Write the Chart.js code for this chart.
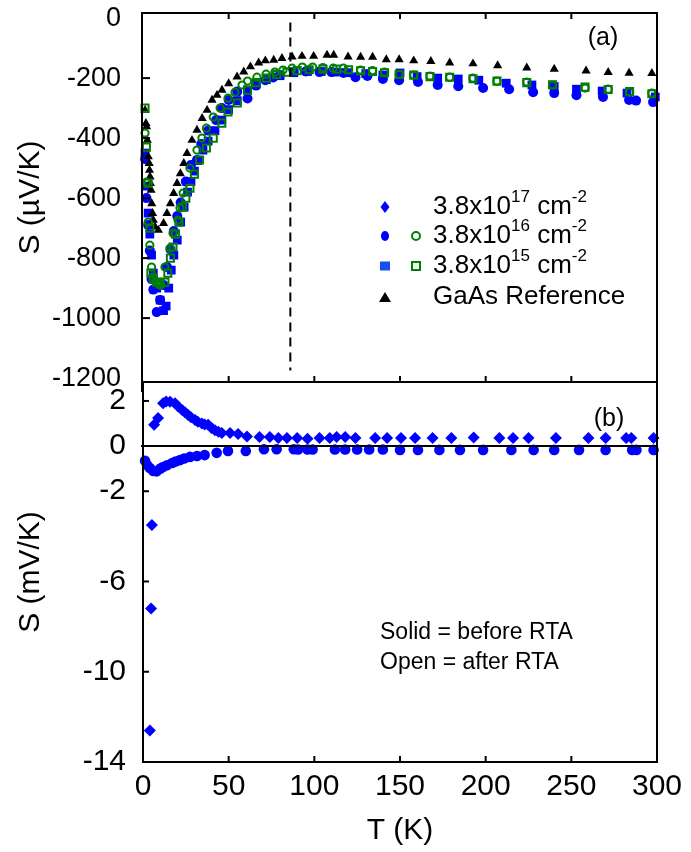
<!DOCTYPE html>
<html><head><meta charset="utf-8">
<script src="https://cdn.jsdelivr.net/npm/chart.js@4"></script>
<style>
html,body{margin:0;padding:0;background:#fff;}
#wrap{position:relative;width:691px;height:852px;overflow:hidden;background:#fff;}
#cA{position:absolute;left:0;top:0;z-index:2;}
#cB{position:absolute;left:0;top:372px;z-index:1;}
</style></head><body>
<div id="wrap"><canvas id="cB" width="691" height="480"></canvas><canvas id="cA" width="691" height="400"></canvas></div>
<script>
// ---------- DATA (top panel, S in µV/K) ----------
const REF_T = [1.2,1.7,2.1,2.5,3.1,3.6,3.8,4.1,4.3,4.7,5.1,5.6,6.0,7.0,9.0,12.0,14.0,16.0,17.9,19.9,21.8,23.8,25.7,28.6,31.5,34.5,37.4,40.3,43.2,46.1,50.0,54.9,58.8,62.7,67.5,71.4,76.3,81.1,87.0,92.8,99.6,107.4,111.3,119.7,127,134,142,149.5,158,168,179,192.6,207,224,240,258.6,271.5,283.7,297];
const REF_S = [-307,-351,-362,-407,-462,-484,-507,-529,-551,-573,-618,-651,-673,-696,-707,-684,-651,-618,-584,-551,-518,-484,-451,-407,-373,-334,-307,-273,-257,-240,-218,-196,-179,-162,-149,-142,-140,-134,-129,-127,-127,-123,-123,-129,-130,-130,-138,-138,-142,-144,-149,-152,-158,-166,-170,-176,-181,-183,-184];

const OPEN16_T = [1.2,2,3,4,5,6,8,10,12.8,15.8,17.5,20.4,21.6,23.4,27.4,31.5,34.4,37,41,45,49.6,53.7,57.8,61,66.5,71.8,77,81.7,87,93,99,105,111,117,127,134,141,149.5,158,167.5,179,192.6,206.6,224,239,258,271.5,284,297];
const OPEN16_S = [-383,-547,-680,-757,-830,-863,-880,-890,-830,-767,-717,-673,-633,-583,-500,-440,-400,-367,-330,-300,-267,-247,-223,-210,-197,-187,-180,-173,-167,-163,-163,-165,-167,-167,-173,-175,-180,-187,-190,-193,-197,-200,-210,-213,-223,-233,-237,-247,-250];

const OPEN15_T = [1.2,2,3,4,4.6,6,8,10,12.8,14.5,16,17.5,19,21,23,25,27.4,30,33,37,41,46,49.6,55,61,66,72,78,84,90,97,105,113,120,127,134,141,149.5,158,167.5,179,192.6,206.6,224,239,258,271.5,284,297];
const OPEN15_S = [-300,-430,-550,-700,-850,-870,-880,-885,-880,-850,-800,-763,-720,-680,-630,-600,-567,-520,-473,-433,-400,-350,-313,-283,-240,-215,-200,-188,-180,-175,-172,-170,-170,-172,-176,-178,-182,-188,-190,-195,-197,-202,-210,-215,-222,-230,-238,-245,-252];

const SOLID16_T = [1.2,2,3,4,5,6,8,10,12,14,16,18,20,22,25,28,31.5,34,38,42.7,46,50,55,61,66,71.4,76,80,88,95,103,110,117,124,131,140,149.5,160.5,172,184,198.5,213.7,227.7,240,253,268.5,283.7,287.8,297.7];
const SOLID16_S = [-470,-600,-690,-775,-870,-905,-980,-940,-890,-830,-770,-710,-660,-615,-545,-490,-473,-420,-375,-340,-300,-273,-245,-268,-225,-207,-198,-190,-180,-178,-180,-180,-183,-197,-193,-203,-207,-213,-223,-227,-233,-237,-247,-250,-257,-263,-273,-275,-280];

const SOLID15_T = [1.2,2,3,4,5,6,8,10,12,13.5,15,16.5,18,20,22,24,26,28,30,32,35,38,42,46,50,55,61,66,72,80,88,96,104,112,120,130,140,150,160,172,184,196,212,227,240,253,268,282.5,299];
const SOLID15_S = [-450,-560,-650,-720,-790,-850,-900,-940,-975,-960,-900,-840,-790,-740,-680,-630,-580,-545,-510,-475,-440,-410,-375,-340,-305,-275,-240,-220,-205,-192,-182,-178,-178,-180,-182,-185,-190,-183,-195,-200,-203,-207,-217,-223,-228,-237,-243,-250,-263];

// ---------- DATA (bottom panel, S in mV/K) ----------
const DIA17_T = [4,4.7,5.2,6.5,8.8,11.7,13.5,15.8,18.7,20.5,22.8,24.5,26.3,28,30.4,32,34.4,36,38,40,42,44,46,50.8,55.5,60.7,68,74,79,84,90,96,103,109,113,118,124,135.5,142.5,150.6,158.8,169,180,193,208,216,225,241,260,270,282,285,298];
const DIA17_S = [-12.6,-7.2,-3.5,0.94,1.25,1.9,1.98,1.96,1.9,1.75,1.6,1.5,1.38,1.28,1.16,1.08,1.0,0.96,0.94,0.8,0.7,0.64,0.58,0.58,0.54,0.42,0.4,0.4,0.36,0.36,0.36,0.32,0.36,0.36,0.4,0.4,0.36,0.36,0.36,0.36,0.36,0.36,0.36,0.38,0.36,0.36,0.36,0.36,0.36,0.36,0.36,0.36,0.36];

const CIR16_T = [1.2,2.5,4,6,8,10,11.7,14,17,19,21.6,24,27.4,31.5,36,43,49.6,60,70.6,78,88,90.5,96,99,112,118,125,132,140,150,160.5,173,185,198.5,215,228,240,254.5,270,285.5,288,298];
const CIR16_S = [-0.65,-0.85,-0.97,-1.1,-1.12,-1.0,-0.93,-0.85,-0.75,-0.68,-0.62,-0.55,-0.48,-0.44,-0.4,-0.3,-0.22,-0.22,-0.14,-0.14,-0.14,-0.15,-0.15,-0.15,-0.15,-0.15,-0.15,-0.15,-0.15,-0.17,-0.17,-0.17,-0.17,-0.17,-0.17,-0.17,-0.17,-0.17,-0.17,-0.17,-0.17,-0.17];

// ---------- axes / labels ----------
const X_TICKS = [0,50,100,150,200,250,300];
const TOP_Y_TICKS = [-1200,-1000,-800,-600,-400,-200,0];
const BOT_Y_TICKS = [-14,-10,-6,-2,0,2];
const TOP_Y_RANGE = [-1213, 17];
const BOT_Y_RANGE = [-14, 2.84];
const DASH_T = 86;
const DASH_S = [-15, -1175];
const LEGEND_LABELS = [
  [['3.8x10',0],['17',1],[' cm',0],['-2',1]],
  [['3.8x10',0],['16',1],[' cm',0],['-2',1]],
  [['3.8x10',0],['15',1],[' cm',0],['-2',1]],
  [['GaAs Reference',0]]
];

const FONT = "'Liberation Sans', Arial, Helvetica, sans-serif";
Chart.defaults.font.family = FONT;
Chart.defaults.color = '#000';

const BLUE = '#0000ff', GREEN = '#008000', BLACK = '#000000';
function pts(T,S){ return T.map((t,i)=>({x:t,y:S[i]})); }
function line(ctx,x1,y1,x2,y2){ ctx.beginPath(); ctx.moveTo(x1,y1); ctx.lineTo(x2,y2); ctx.stroke(); }
function mark(ctx, style, x, y, w, h, fill, stroke, lw){
  ctx.save(); ctx.beginPath();
  if(style==='circle'){ ctx.ellipse(x,y,w/2,h/2,0,0,Math.PI*2); }
  else if(style==='rect'){ ctx.rect(x-w/2,y-h/2,w,h); }
  else if(style==='triangle'){ ctx.moveTo(x,y-h/2); ctx.lineTo(x+w/2,y+h/2); ctx.lineTo(x-w/2,y+h/2); ctx.closePath(); }
  else if(style==='diamond'){ ctx.moveTo(x,y-h/2); ctx.lineTo(x+w/2,y); ctx.lineTo(x,y+h/2); ctx.lineTo(x-w/2,y); ctx.closePath(); }
  if(fill){ ctx.fillStyle=fill; ctx.fill(); }
  if(stroke){ ctx.strokeStyle=stroke; ctx.lineWidth=lw; ctx.stroke(); }
  ctx.restore();
}
function rich(ctx, parts, x, y, size, supSize, rise){
  ctx.textBaseline='middle'; ctx.textAlign='left'; ctx.fillStyle='#000';
  let cx = x;
  parts.forEach(([t,sup])=>{
    ctx.font = (sup?supSize:size)+'px '+FONT;
    ctx.fillText(t, cx, sup ? y-rise : y);
    cx += ctx.measureText(t).width;
  });
}

const frameA = {
  id:'frameA',
  afterDraw(chart){
    const {ctx, chartArea:ca, scales:{x,y}} = chart;
    ctx.save();
    ctx.strokeStyle='#000'; ctx.lineWidth=2;
    line(ctx, ca.left-1, ca.top, ca.left-1, 392);
    line(ctx, ca.left-2, ca.top, ca.right+1, ca.top);
    line(ctx, ca.right, ca.top, ca.right, ca.bottom);
    X_TICKS.forEach(v=>{ if(v<=0||v>=300) return; const px=x.getPixelForValue(v);
      line(ctx,px,ca.top,px,ca.top+6); line(ctx,px,ca.bottom,px,ca.bottom-6); });
    TOP_Y_TICKS.forEach(v=>{ if(v===0||v===-1200) return; const py=y.getPixelForValue(v);
      line(ctx, ca.left, py, ca.left+7, py); });
    ctx.setLineDash([9,6]);
    const dx = x.getPixelForValue(DASH_T);
    line(ctx, dx, y.getPixelForValue(DASH_S[0]), dx, y.getPixelForValue(DASH_S[1]));
    ctx.setLineDash([]);
    // legend
    const rows=[207,236,266,297];
    mark(ctx,'diamond',385,rows[0],9,12,BLUE);
    mark(ctx,'circle',385,rows[1],8,10,BLUE);
    mark(ctx,'circle',416,rows[1],8,8,null,GREEN,2);
    mark(ctx,'rect',385,rows[2],10,9,'#1450f0');
    mark(ctx,'rect',416,rows[2],8,8,null,GREEN,2);
    mark(ctx,'triangle',385,rows[3],12,10,BLACK);
    LEGEND_LABELS.forEach((p,i)=>rich(ctx,p,433,rows[i],26,17,10));
    ctx.font='25px '+FONT; ctx.textAlign='center'; ctx.textBaseline='middle'; ctx.fillStyle='#000';
    ctx.fillText('(a)',603,38);
    ctx.restore();
  }
};

const frameB = {
  id:'frameB',
  afterDraw(chart){
    const {ctx, chartArea:ca, scales:{x,y}} = chart;
    ctx.save();
    ctx.strokeStyle='#000'; ctx.lineWidth=2;
    line(ctx, ca.left, ca.top, ca.left, ca.bottom+1);
    line(ctx, ca.left-1, ca.top, ca.right+1, ca.top);
    line(ctx, ca.left-1, ca.bottom, ca.right+1, ca.bottom);
    line(ctx, ca.right, ca.top, ca.right, ca.bottom);
    const zy = y.getPixelForValue(0);
    line(ctx, ca.left-2, zy, ca.right, zy);
    X_TICKS.forEach(v=>{ if(v<=0||v>=300) return; const px=x.getPixelForValue(v);
      line(ctx,px,ca.bottom,px,ca.bottom-6); });
    BOT_Y_TICKS.forEach(v=>{ if(v===0||v===-14) return; const py=y.getPixelForValue(v);
      line(ctx, ca.left-1, py, ca.left+6, py); });
    ctx.fillStyle='#000'; ctx.textBaseline='middle';
    ctx.font='25px '+FONT; ctx.textAlign='center';
    ctx.fillText('(b)',609,419-372);
    ctx.font='23px '+FONT; ctx.textAlign='left';
    ctx.fillText('Solid = before RTA',380,633-372);
    ctx.fillText('Open = after RTA',380,663-372);
    ctx.restore();
  }
};

function yAxis(range, ticks, pad, size, title){
  return {
    type:'linear', min:range[0], max:range[1],
    afterBuildTicks: s=>{ s.ticks = ticks.map(v=>({value:v})); },
    afterFit: s=>{ s.width=143; s.paddingTop=0; s.paddingBottom=0; },
    grid:{display:false, drawTicks:false}, border:{display:false},
    ticks:{font:{size:size}, color:'#000', padding:pad, autoSkip:false, callback:v=>String(v)},
    title:{display:true, text:title, color:'#000', font:{size:30}, padding:{top:13,bottom:0}}
  };
}

const common = {
  responsive:false, animation:false, events:[],
  plugins:{legend:{display:false}, tooltip:{enabled:false}}
};

new Chart(document.getElementById('cA'), {
  type:'scatter',
  data:{datasets:[
    {data:pts(OPEN16_T,OPEN16_S), pointStyle:'circle', radius:3.6, backgroundColor:'rgba(0,0,0,0)', borderColor:GREEN, borderWidth:2, clip:false},
    {data:pts(OPEN15_T,OPEN15_S), pointStyle:'rect', radius:5, backgroundColor:'rgba(0,0,0,0)', borderColor:GREEN, borderWidth:2, clip:false},
    {data:pts(REF_T,REF_S), pointStyle:'triangle', radius:5.3, backgroundColor:BLACK, borderColor:BLACK, borderWidth:0, clip:false},
    {data:pts(SOLID16_T,SOLID16_S), pointStyle:'circle', radius:5, backgroundColor:BLUE, borderColor:BLUE, borderWidth:0, clip:false},
    {data:pts(SOLID15_T,SOLID15_S), pointStyle:'rect', radius:6.2, backgroundColor:BLUE, borderColor:BLUE, borderWidth:0, clip:false}
  ]},
  options:Object.assign({}, common, {
    layout:{padding:{top:13,right:34,bottom:18,left:0}},
    scales:{
      x:{type:'linear', min:0, max:300, display:false},
      y:yAxis(TOP_Y_RANGE, TOP_Y_TICKS, 22, 27, 'S (µV/K)')
    }
  }),
  plugins:[frameA]
});

new Chart(document.getElementById('cB'), {
  type:'scatter',
  data:{datasets:[
    {data:pts(DIA17_T,DIA17_S), pointStyle:'rectRot', radius:6, backgroundColor:BLUE, borderColor:BLUE, borderWidth:0, clip:false},
    {data:pts(CIR16_T,CIR16_S), pointStyle:'circle', radius:5.3, backgroundColor:BLUE, borderColor:BLUE, borderWidth:0, clip:false}
  ]},
  options:Object.assign({}, common, {
    layout:{padding:{top:10,right:34,bottom:0,left:0}},
    scales:{
      x:{type:'linear', min:0, max:300, position:'bottom',
        afterBuildTicks: s=>{ s.ticks = X_TICKS.map(v=>({value:v})); },
        afterFit: s=>{ s.height=90; s.paddingLeft=0; s.paddingRight=0; },
        grid:{display:false, drawTicks:false}, border:{display:false},
        ticks:{font:{size:30}, color:'#000', padding:7, maxRotation:0, autoSkip:false, callback:v=>String(v)},
        title:{display:true, text:'T (K)', color:'#000', font:{size:30}, padding:{top:0,bottom:3}}
      },
      y:yAxis(BOT_Y_RANGE, BOT_Y_TICKS, 17, 30, 'S (mV/K)')
    }
  }),
  plugins:[frameB]
});
</script>
</body></html>
